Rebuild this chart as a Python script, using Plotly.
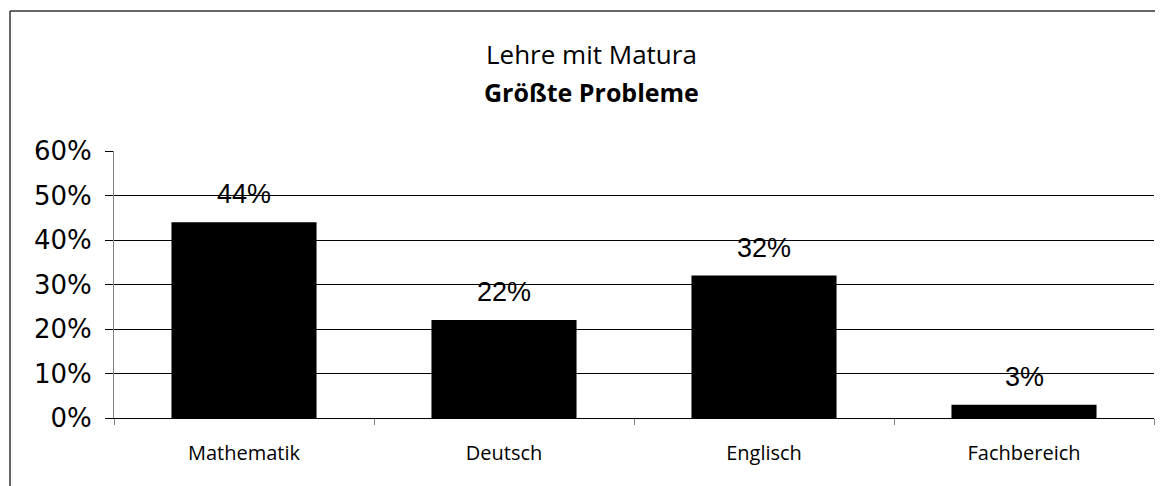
import plotly.graph_objects as go

categories = ["Mathematik", "Deutsch", "Englisch", "Fachbereich"]
values = [0.44, 0.22, 0.32, 0.03]
value_labels = ["44%", "22%", "32%", "3%"]
y_ticks = [0, 0.1, 0.2, 0.3, 0.4, 0.5, 0.6]
y_tick_labels = ["0%", "10%", "20%", "30%", "40%", "50%", "60%"]
title_line1 = "Lehre mit Matura"
title_line2 = "Größte Probleme"

fig = go.Figure()
fig.add_trace(go.Bar(
    x=categories, y=values,
    marker=dict(color="black", line=dict(width=0)),
    hoverinfo="skip",
))

for c, v, t in zip(categories, values, value_labels):
    fig.add_annotation(x=c, y=v, text=t, showarrow=False,
                       yanchor="bottom", yshift=11,
                       font=dict(family="Liberation Sans", size=27, color="black"))

fig.add_annotation(xref="paper", yref="paper", x=0.4596, y=1.363,
                   text=title_line1, showarrow=False, xanchor="center", yanchor="middle",
                   font=dict(family="Open Sans", size=26, color="black"))
fig.add_annotation(xref="paper", yref="paper", x=0.4596, y=1.222,
                   text="<b>" + title_line2 + "</b>", showarrow=False, xanchor="center", yanchor="middle",
                   font=dict(family="Open Sans", size=25, color="black"))

# outer chart border (only top and left edges fall inside the frame)
border = dict(color="#333333", width=1.5)
fig.add_shape(type="line", xref="paper", yref="paper",
              x0=-0.1, x1=1.05, y0=1.524, y1=1.524, line=border, layer="below")
fig.add_shape(type="line", xref="paper", yref="paper",
              x0=-0.1, x1=-0.1, y0=-0.4, y1=1.524, line=border, layer="below")

fig.update_layout(
    width=1155, height=478,
    margin=dict(l=106, r=9, t=143, b=68),
    paper_bgcolor="white", plot_bgcolor="white",
    bargap=0.442,
    showlegend=False,
    xaxis=dict(
        showline=True, linecolor="black", linewidth=1,
        ticks="outside", tickson="boundaries", ticklen=6, tickcolor="#808080",
        showgrid=False, ticklabelstandoff=17,
        tickfont=dict(family="Open Sans", size=20, color="black"),
    ),
    yaxis=dict(
        range=[0, 0.6], tickvals=y_ticks, ticktext=y_tick_labels,
        showline=True, linecolor="#808080", linewidth=1,
        ticks="outside", ticklen=8, tickcolor="black",
        showgrid=True, gridcolor="black", gridwidth=1,
        zeroline=False, ticklabelstandoff=8,
        tickfont=dict(family="DejaVu Sans", size=26, color="black"),
    ),
)

fig.write_html("out.html", post_script="document.documentElement.style.overflow='hidden';")
